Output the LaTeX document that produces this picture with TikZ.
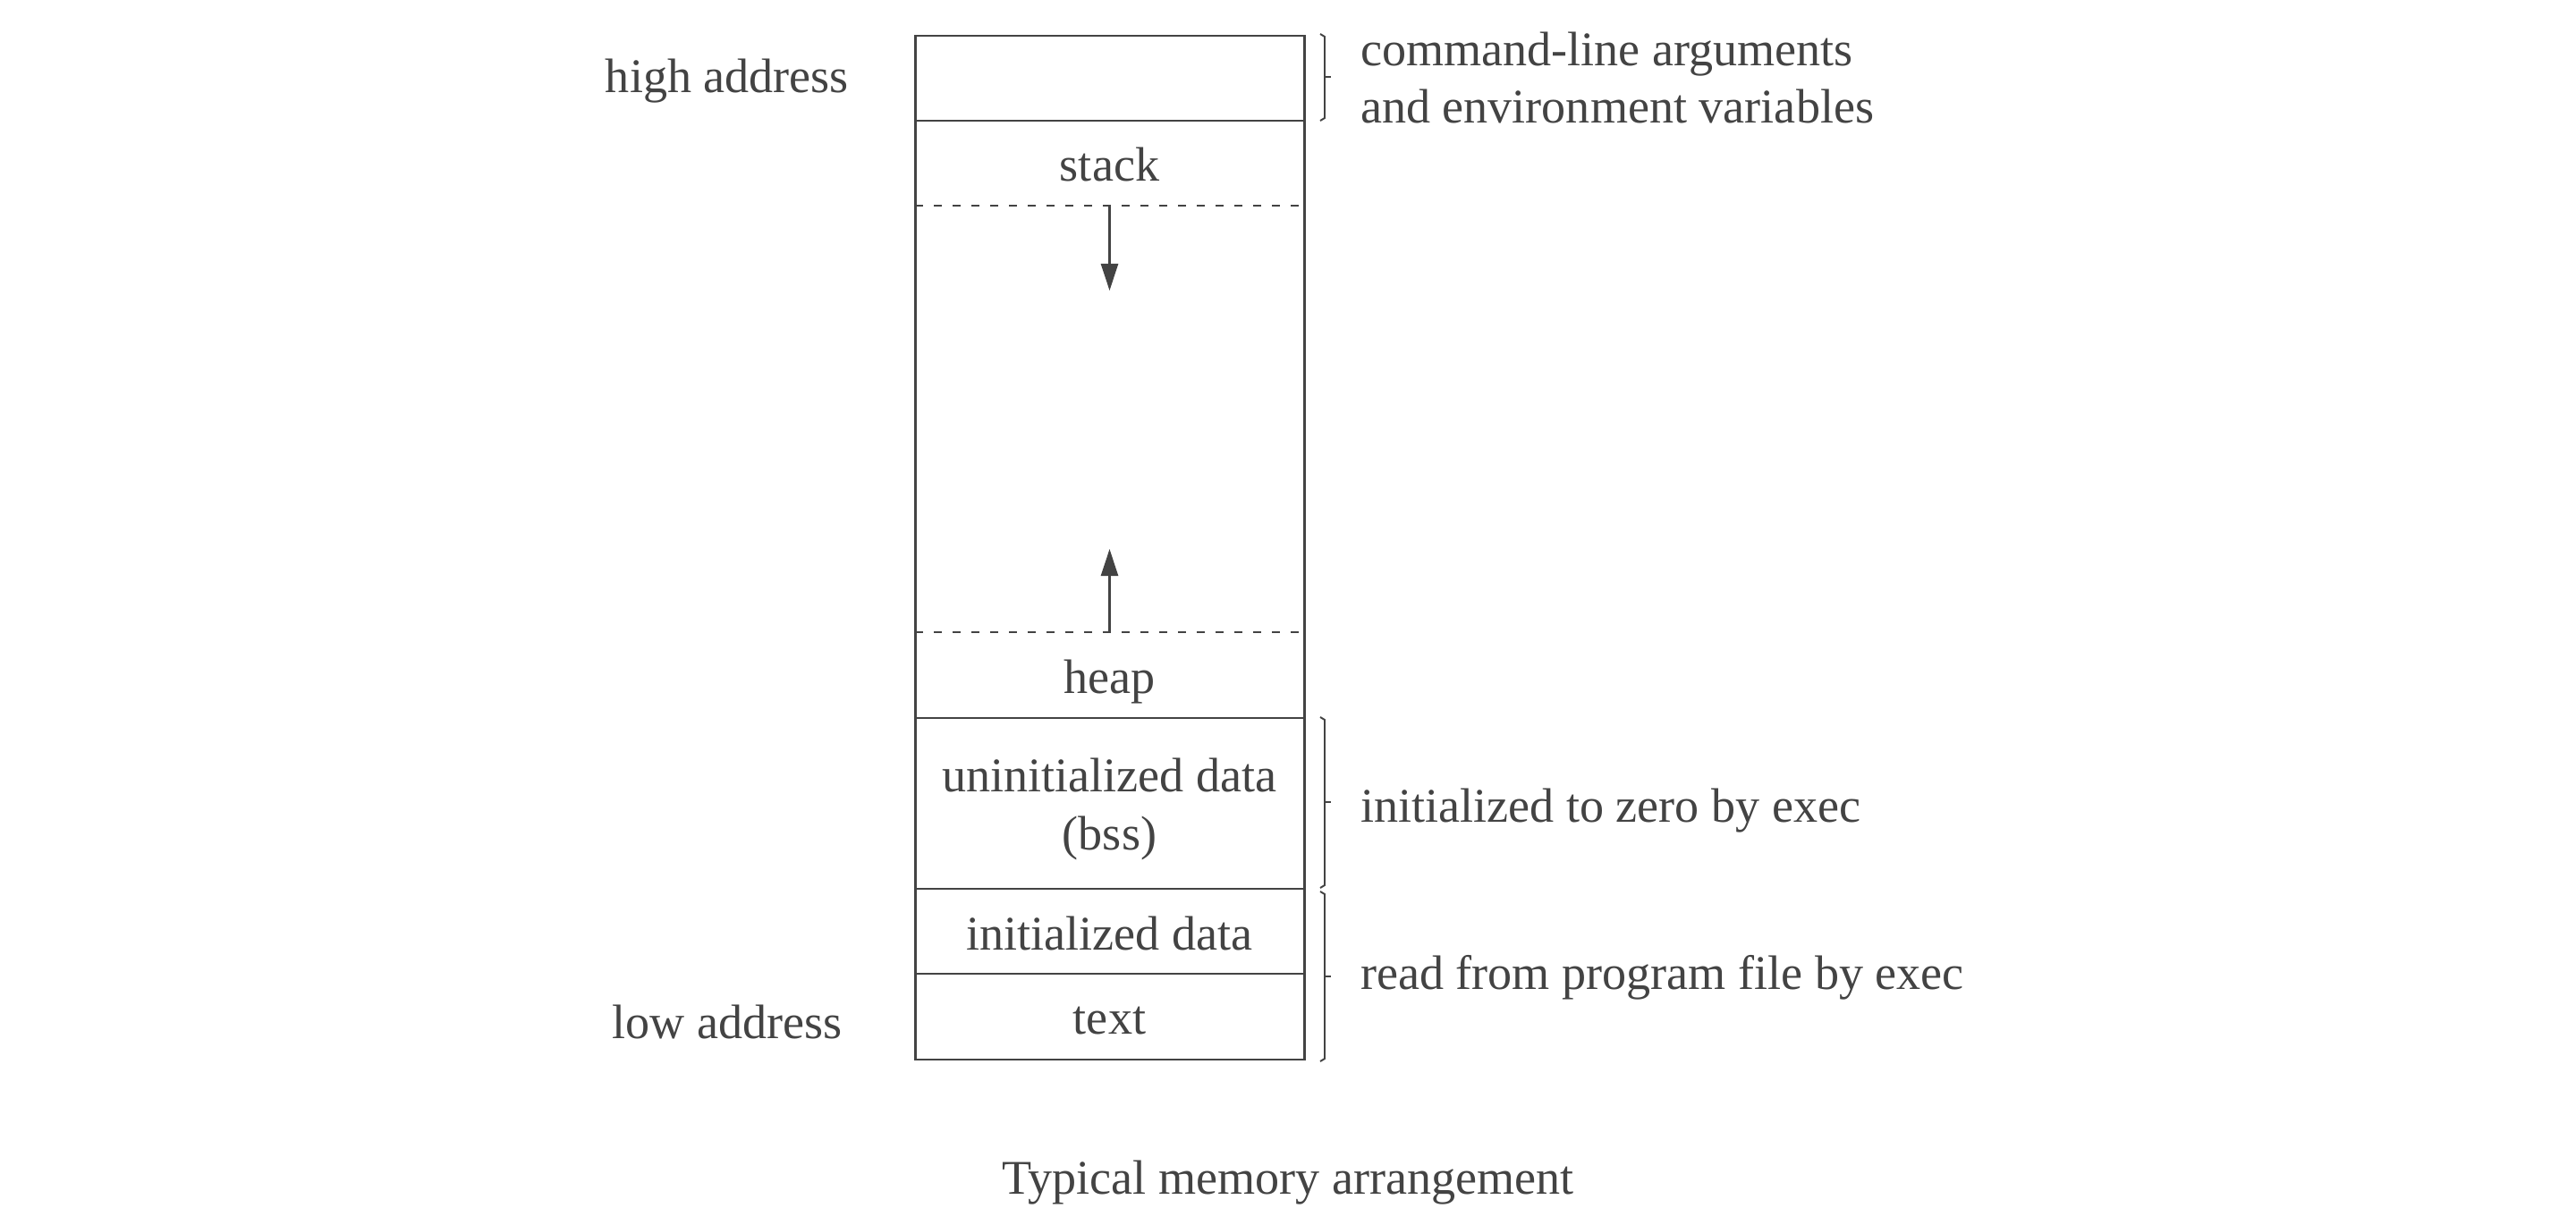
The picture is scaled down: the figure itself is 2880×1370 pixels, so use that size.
\documentclass[tikz,border=0pt]{standalone}
\usepackage{fontspec}
\setmainfont{Liberation Serif}
\usetikzlibrary{arrows.meta}
\definecolor{ink}{HTML}{434343}
\tikzset{
  lbl/.style={inner sep=0pt, outer sep=0pt, text=ink, font=\fontsize{15.4}{18}\selectfont},
  boxline/.style={draw=ink, line width=0.85pt},
  dashline/.style={draw=ink, line width=0.6pt, dash pattern=on 0.9mm off 1.2mm},
  growarrow/.style={draw=ink, line width=0.7pt, -{Triangle[length=3.0mm,width=1.9mm]}},
  brk/.style={draw=ink, line width=0.55pt},
}
\begin{document}
\begin{tikzpicture}[x=0.1mm, y=-0.1mm]
\path[use as bounding box] (0,0) rectangle (2880,1370);
% memory box
\node[boxline, inner sep=0pt, minimum width=43.5mm, minimum height=114.5mm] (mem) at (1240.5,612.5) {};
\draw[boxline] (1023,135) -- (1458,135);
\draw[boxline] (1023,803) -- (1458,803);
\draw[boxline] (1023,994) -- (1458,994);
\draw[boxline] (1023,1089) -- (1458,1089);
\draw[dashline] (1023,230) -- (1458,230);
\draw[dashline] (1023,707) -- (1458,707);
% arrows
\coordinate (sdown0) at (1240.5,230);
\coordinate (sdown1) at (1240.5,325);
\coordinate (hup0) at (1240.5,707);
\coordinate (hup1) at (1240.5,614);
\draw[growarrow] (sdown0) -- (sdown1);
\draw[growarrow] (hup0) -- (hup1);
% segment labels
\node[lbl, anchor=base] (stack) at (1240.5,203) {stack};
\node[lbl, anchor=base] (heap) at (1240.5,775) {heap};
\node[lbl, anchor=base] (bss1) at (1240.5,885) {uninitialized data};
\node[lbl, anchor=base] (bss2) at (1240.5,950) {(bss)};
\node[lbl, anchor=base] (idata) at (1240.5,1062) {initialized data};
\node[lbl, anchor=base] (text) at (1240.5,1156) {text};
% address labels
\node[lbl, anchor=base] (high) at (813,104) {high address};
\node[lbl, anchor=base] (low) at (813,1161) {low address};
% brackets
\draw[brk] (1476,38) -- (1481,41) -- (1481,132) -- (1476,135);
\draw[brk] (1481,86) -- (1488,86);
\draw[brk] (1476,802) -- (1481,805) -- (1481,990) -- (1476,993);
\draw[brk] (1481,897) -- (1488,897);
\draw[brk] (1476,997) -- (1481,1000) -- (1481,1184) -- (1476,1187);
\draw[brk] (1481,1092) -- (1488,1092);
% right labels
\node[lbl, anchor=base west] (cla1) at (1521,74) {command-line arguments};
\node[lbl, anchor=base west] (cla2) at (1521,138) {and environment variables};
\node[lbl, anchor=base west] (zero) at (1521,919) {initialized to zero by exec};
\node[lbl, anchor=base west] (readf) at (1521,1106) {read from program file by exec};
% caption
\node[lbl, anchor=base] (caption) at (1440,1335) {Typical memory arrangement};
\end{tikzpicture}
\end{document}
